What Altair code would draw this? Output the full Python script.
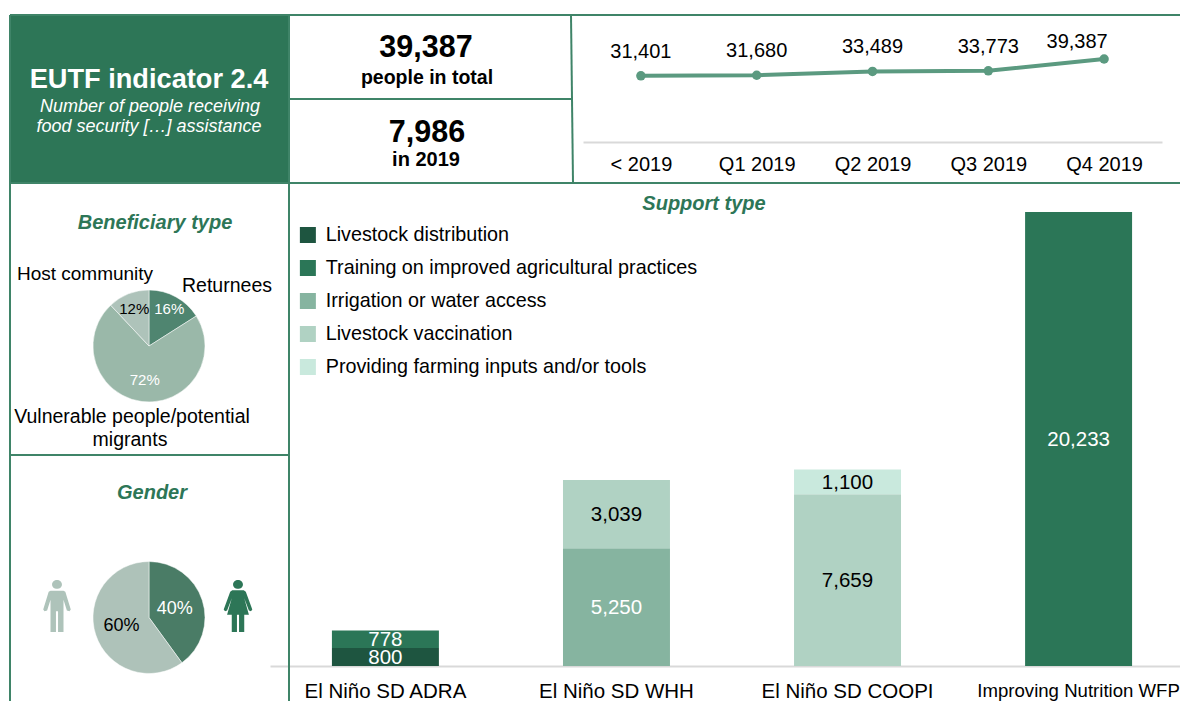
import altair as alt
import pandas as pd

FONT = "Liberation Sans"
GREEN = "#2d7657"
FRAME = "#3f8468"
W, H = 1172, 693

# ---------- data ----------
quarters = ["< 2019", "Q1 2019", "Q2 2019", "Q3 2019", "Q4 2019"]
cumulative = [31401, 31680, 33489, 33773, 39387]

projects = ["El Niño SD ADRA", "El Niño SD WHH", "El Niño SD COOPI", "Improving Nutrition WFP"]
support_types = ["Livestock distribution", "Training on improved agricultural practices",
                 "Irrigation or water access", "Livestock vaccination",
                 "Providing farming inputs and/or tools"]
support_colors = ["#1e5540", "#2b7657", "#86b4a0", "#b0d2c3", "#c9e9dd"]
bar_project = [projects[0], projects[0], projects[1], projects[1], projects[2], projects[2], projects[3]]
bar_type = [support_types[0], support_types[1], support_types[2], support_types[3],
            support_types[3], support_types[4], support_types[1]]
bar_value = [800, 778, 5250, 3039, 7659, 1100, 20233]

benef_types = ["Returnees", "Vulnerable people/potential migrants", "Host community"]
benef_share = [16, 72, 12]
benef_colors = ["#4f8570", "#9ab8a9", "#aec3ba"]
gender_types = ["Women", "Men"]
gender_share = [40, 60]
gender_colors = ["#4a7c66", "#aec2b9"]

MAN = ("M-.25 -.59L.25 -.59L.32 -.55L.53 .13L.48 .2L.38 .17L.25 -.24L.25 1L.04 1L.04 .2L-.04 .2L-.04 1L-.25 1"
       "L-.25 -.24L-.38 .17L-.48 .2L-.53 .13L-.32 -.55Z"
       "M-.19 -.83A.19 .17 0 1 1 .19 -.83A.19 .17 0 1 1 -.19 -.83Z")
WOMAN = ("M-.22 -.61L.22 -.61L.3 -.55L.55 .13L.5 .2L.42 .17L.24 -.3L.42 .34L.24 .34L.24 1L.04 1L.04 .34L-.04 .34"
         "L-.04 1L-.24 1L-.24 .34L-.42 .34L-.24 -.3L-.42 .17L-.5 .2L-.55 .13L-.3 -.55Z"
         "M-.19 -.83A.19 .17 0 1 1 .19 -.83A.19 .17 0 1 1 -.19 -.83Z")

one = pd.DataFrame({"k": [1]})


def px(v):
    return alt.value(v - 8)


def txt(s, x, y, size=20, bold=False, italic=False, color="black"):
    return alt.Chart(one).mark_text(
        text=s, font=FONT, fontSize=size, fontWeight="bold" if bold else "normal",
        fontStyle="italic" if italic else "normal", color=color, baseline="middle",
    ).encode(x=px(x), y=px(y + 1))


def line(x1, y1, x2, y2, color=FRAME, w=2):
    return alt.Chart(one).mark_rule(color=color, strokeWidth=w).encode(
        x=px(x1), y=px(y1), x2=px(x2), y2=px(y2))


# ---------- panels ----------
header = alt.Chart(one).mark_rect(color=GREEN).encode(x=px(10), x2=px(289), y=px(15), y2=px(183))
frame = [
    line(10, 15, 1188, 15), line(10, 15, 10, 709), line(289, 15, 289, 709),
    line(571, 15, 573, 183), line(289, 99, 571, 99), line(10, 183, 1188, 183), line(10, 455, 289, 455),
]
heads = [
    txt("EUTF indicator 2.4", 149, 79, 27.2, bold=True, color="white"),
    txt("Number of people receiving", 150, 106, 18, italic=True, color="white"),
    txt("food security […] assistance", 149, 126, 18, italic=True, color="white"),
    txt("39,387", 426, 47, 30.5, bold=True),
    txt("people in total", 427, 77, 19.5, bold=True),
    txt("7,986", 427, 132, 30.5, bold=True),
    txt("in 2019", 426, 159, 20, bold=True),
    txt("Beneficiary type", 155, 222, 20, bold=True, italic=True, color=GREEN),
    txt("Gender", 152, 492, 20, bold=True, italic=True, color=GREEN),
    txt("Support type", 704, 203, 20, bold=True, italic=True, color=GREEN),
    txt("Host community", 85, 273, 19),
    txt("Returnees", 227, 285, 19.5),
    txt("Vulnerable people/potential", 132, 416, 19.5),
    txt("migrants", 130, 439, 19.5),
]

# ---------- cumulative line ----------
line_df = pd.DataFrame({"quarter": quarters, "people": cumulative})
lx = alt.Scale(type="point", domain=quarters, range=[575, 1154], padding=0.5)
ly = alt.Scale(domain=[0, 39387], range=[134, 51])
spark_base = alt.Chart(line_df).encode(
    x=alt.X("quarter:N", scale=lx, axis=None),
    y=alt.Y("people:Q", scale=ly, axis=None),
)
spark_axis = alt.Chart(line_df).mark_line(opacity=0).encode(
    x=alt.X("quarter:N", scale=lx, title=None, axis=alt.Axis(
        orient="bottom", offset=134 - H, ticks=False, grid=False, labelAngle=0, labelFont=FONT,
        labelFontSize=20, labelColor="black", labelPadding=12, domainColor="#d9d9d9", domainWidth=2)),
    y=alt.Y("people:Q", scale=ly, axis=None),
)
spark_line = spark_base.mark_line(color="#5b9a80", strokeWidth=4)
spark_pts = spark_base.mark_point(color="#5b9a80", filled=True, size=90, opacity=1)
spark_lbl = spark_base.transform_filter("datum.people < 39387").mark_text(
    font=FONT, fontSize=20, dy=-24, color="black").encode(text=alt.Text("people:Q", format=","))
spark_lbl_last = spark_base.transform_filter("datum.people >= 39387").mark_text(
    font=FONT, fontSize=20, dy=-17, dx=-27, color="black").encode(text=alt.Text("people:Q", format=","))

# ---------- stacked bars ----------
bar_df = pd.DataFrame({"project": bar_project, "type": bar_type, "value": bar_value})
bar_df["rank"] = bar_df["type"].map(support_types.index)
bx = alt.Scale(type="band", domain=projects, range=[262, 1186], paddingInner=0.537, paddingOuter=0.268)
by = alt.Scale(domain=[0, 20233], range=[658, 204])
bars = alt.Chart(bar_df).mark_bar().encode(
    x=alt.X("project:N", scale=bx, title=None, axis=alt.Axis(
        orient="bottom", offset=658 - H, ticks=False, grid=False, labelAngle=0, labelFont=FONT,
        labelFontSize=alt.expr("datum.label === 'Improving Nutrition WFP' ? 18.6 : 20.5"),
        labelColor="black", labelPadding=15, labelLimit=400, domainColor="#d9d9d9",
        domainWidth=2)),
    y=alt.Y("value:Q", stack="zero", scale=by, axis=None),
    order=alt.Order("rank:Q"),
    color=alt.Color("type:N", scale=alt.Scale(domain=support_types, range=support_colors), legend=alt.Legend(
        orient="none", legendX=290, legendY=219, title=None, symbolType="square", symbolSize=256,
        symbolStrokeWidth=0, symbolOpacity=1, labelFont=FONT, labelFontSize=19.75, labelColor="black",
        labelOffset=8, rowPadding=13, clipHeight=16, labelLimit=500, padding=0)),
)
DARK = "datum.type === '%s' || datum.type === '%s' || datum.type === '%s'" % (
    support_types[0], support_types[1], support_types[2])
bar_labels = alt.Chart(bar_df).transform_stack(
    stack="value", groupby=["project"], as_=["y0", "y1"], sort=[alt.SortField("rank")]
).transform_calculate(mid="(datum.y0 + datum.y1) / 2").mark_text(font=FONT, fontSize=20.5, dy=1).encode(
    x=alt.X("project:N", scale=bx, axis=None),
    y=alt.Y("mid:Q", scale=by, axis=None),
    text=alt.Text("value:Q", format=","),
    color=alt.condition(DARK, alt.value("white"), alt.value("black")),
)


# ---------- pies ----------
def pie(cats, shares, colors, radii, inks, cx, cy, size):
    df = pd.DataFrame({"cat": cats, "share": shares, "rank": list(range(len(cats)))})
    arc = alt.Chart(df).mark_arc(outerRadius=56, stroke="white", strokeWidth=0.5).encode(
        theta=alt.Theta("share:Q", stack=True, scale=alt.Scale(domain=[0, 100], range=[0, 6.2832])),
        order=alt.Order("rank:Q"), x=px(cx), y=px(cy),
        color=alt.Color("cat:N", scale=alt.Scale(domain=cats, range=colors), legend=None),
    )
    labels = [
        alt.Chart(df).transform_stack(
            stack="share", groupby=[], as_=["a0", "a1"], sort=[alt.SortField("rank")]
        ).transform_calculate(mid="(datum.a0 + datum.a1) / 2", pct="datum.share + '%'").transform_filter(
            "datum.cat === '%s'" % c
        ).mark_text(radius=r, font=FONT, fontSize=size, color=i).encode(
            theta=alt.Theta("mid:Q", stack=None, scale=alt.Scale(domain=[0, 100], range=[0, 6.2832])),
            x=px(cx), y=px(cy), text="pct:N",
        )
        for c, r, i in zip(cats, radii, inks)
    ]
    return [arc] + labels


pie1 = pie(benef_types, benef_share, benef_colors, [42, 34, 40], ["white", "white", "black"], 149, 346, 15)
pie2 = pie(gender_types, gender_share, gender_colors, [27, 29], ["white", "black"], 149, 617.5, 18)

man = alt.Chart(one).mark_point(shape=MAN, filled=True, color="#aec3ba", size=52 * 52, opacity=1).encode(
    x=px(57), y=px(606))
woman = alt.Chart(one).mark_point(shape=WOMAN, filled=True, color=GREEN, size=52 * 52, opacity=1).encode(
    x=px(238), y=px(606))

chart = alt.layer(
    header, *frame, spark_axis, spark_line, spark_pts, spark_lbl, spark_lbl_last,
    bars, bar_labels, *pie1, *pie2, man, woman, *heads,
).resolve_scale(x="independent", y="independent", color="independent", theta="independent").resolve_axis(
    x="independent"
).properties(
    width=W, height=H, padding=0, autosize=alt.AutoSizeParams(type="none"),
    background="white",
).configure_view(stroke=None)

chart.save("out.html", embed_options={"renderer": "svg", "actions": False})
